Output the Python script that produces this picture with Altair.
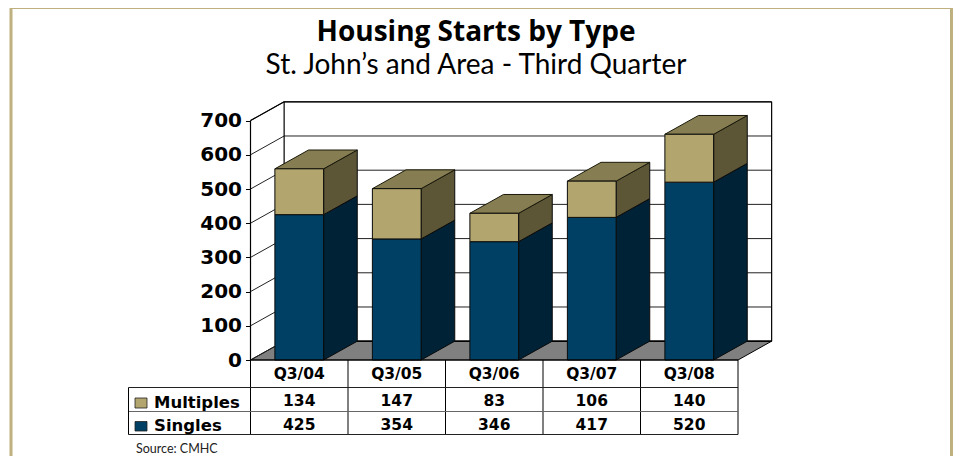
import altair as alt
import pandas as pd

categories = ["Q3/04", "Q3/05", "Q3/06", "Q3/07", "Q3/08"]
singles = [425, 354, 346, 417, 520]
multiples = [134, 147, 83, 106, 140]
ticks = [0, 100, 200, 300, 400, 500, 600, 700]
series_names = ["Multiples", "Singles"]
FONT = "Lato"
HEAVY = "DejaVu Sans"

# chart scale: category slots on x, housing starts on y, with the 3D depth in the same units
W, H = 945, 448
SLOT_PX, UNIT_PX = 97.5, 0.342
X0_PX, Y0_PX = 242.5, 352
DX, DY = 0.345, 55
BAR = 0.5
x_scale = alt.Scale(domain=[-X0_PX / SLOT_PX, (W - X0_PX) / SLOT_PX], range=[0, W], nice=False, zero=False)
y_scale = alt.Scale(domain=[(Y0_PX - H) / UNIT_PX, Y0_PX / UNIT_PX], range=[H, 0], nice=False, zero=False)
NAVY, NAVY_SIDE = "#004064", "#002236"
TAN, TAN_SIDE, TAN_TOP = "#B2A66E", "#5C5637", "#877D52"
FRAME = "#BFB07F"
n = len(categories)

X = lambda f="x": alt.X(f, type="quantitative", scale=x_scale, axis=None, title=None)
Y = lambda f="y": alt.Y(f, type="quantitative", scale=y_scale, axis=None, title=None)
X2 = alt.X2("x2")
Y2 = alt.Y2("y2")

# grid lines on left wall and back wall
seg = []
for t in ticks:
    seg.append(dict(x=0, x2=DX, y=t, y2=t + DY))
    seg.append(dict(x=DX, x2=n + DX, y=t + DY, y2=t + DY))
grid = alt.Chart(pd.DataFrame(seg)).mark_rule(color="#222222", strokeWidth=1).encode(X(), X2, Y(), Y2)

edges = pd.DataFrame([
    dict(x=DX, x2=DX, y=DY, y2=700 + DY),
    dict(x=n + DX, x2=n + DX, y=DY, y2=700 + DY),
    dict(x=0, x2=0, y=0, y2=700),
    dict(x=DX, x2=n + DX, y=700 + DY, y2=700 + DY),
    dict(x=0, x2=DX, y=700, y2=700 + DY),
])
wall_edges = alt.Chart(edges).mark_rule(color="black", strokeWidth=1.2).encode(X(), X2, Y(), Y2)

floor_df = pd.DataFrame([dict(x=0, x2=n, y=0), dict(x=DX, x2=n + DX, y=DY)])
floor = alt.Chart(floor_df).mark_area(orient="horizontal", color="#808080", stroke="black", strokeWidth=1).encode(X(), X2, Y())
back_line = alt.Chart(pd.DataFrame([dict(x=DX, x2=n + DX, y=DY, y2=DY)])).mark_rule(color="black", strokeWidth=1.6).encode(X(), X2, Y(), Y2)

# bars
fronts, sides, tops = [], [], []
for i, (s, m) in enumerate(zip(singles, multiples)):
    x0, x1 = i + (1 - BAR) / 2, i + (1 + BAR) / 2
    for name, lo, hi, c, cs in [("S", 0, s, NAVY, NAVY_SIDE), ("M", s, s + m, TAN, TAN_SIDE)]:
        fronts.append(dict(x=x0, x2=x1, y=lo, y2=hi, c=c))
        sides.append(dict(g=f"{i}{name}", x=x1, y=lo, y2=hi, c=cs))
        sides.append(dict(g=f"{i}{name}", x=x1 + DX, y=lo + DY, y2=hi + DY, c=cs))
    tops.append(dict(g=i, x=x0, x2=x1, y=s + m, c=TAN_TOP))
    tops.append(dict(g=i, x=x0 + DX, x2=x1 + DX, y=s + m + DY, c=TAN_TOP))

color = alt.Color("c:N", scale=None)
side_layer = alt.Chart(pd.DataFrame(sides)).mark_area(stroke="#0a0a0a", strokeWidth=1).encode(X(), Y(), Y2, color=color, detail="g:N")
top_layer = alt.Chart(pd.DataFrame(tops)).mark_area(orient="horizontal", stroke="#1a1a0a", strokeWidth=1).encode(X(), X2, Y(), color=color, detail="g:N")
front_layer = alt.Chart(pd.DataFrame(fronts)).mark_rect(stroke="#0a0a0a", strokeWidth=1).encode(X(), X2, Y(), Y2, color=color)

# y axis carried by an invisible layer
axis_layer = alt.Chart(pd.DataFrame({"y": ticks, "x": [0] * len(ticks)})).mark_point(opacity=0).encode(
    X(),
    alt.Y("y:Q", scale=y_scale, title=None, axis=alt.Axis(
        values=ticks, offset=-X0_PX, domain=False, grid=False, tickColor="black", tickSize=5, tickWidth=1,
        labelFont=HEAVY, labelFontSize=20, labelFontWeight="bold", labelColor="black", labelPadding=4)),
)

# data table
ROW_PX = [387.5 - 8, 411.5 - 8, 434.5 - 8]
LEFT_PX = 128.5 - 8
TOP_PX = Y0_PX
v_rules = alt.Chart(pd.DataFrame({"x": list(range(n + 1))})).mark_rule(color="black", strokeWidth=1).encode(
    X(), y=alt.value(TOP_PX), y2=alt.value(ROW_PX[2]))
h_rules = alt.Chart(pd.DataFrame({"y": ROW_PX, "c": ["#222222", "#666666", "#222222"]})).mark_rule(strokeWidth=1).encode(
    x=alt.value(LEFT_PX), x2=alt.value(X0_PX + n * SLOT_PX), y=alt.Y("y:Q", scale=None), color=color)
base_rule = alt.Chart(pd.DataFrame({"y": [TOP_PX]})).mark_rule(color="black", strokeWidth=1.2).encode(
    x=alt.value(X0_PX), x2=alt.value(X0_PX + n * SLOT_PX), y=alt.Y("y:Q", scale=None))
left_rule = alt.Chart(pd.DataFrame({"x": [LEFT_PX]})).mark_rule(color="black", strokeWidth=1).encode(
    x=alt.X("x:Q", scale=None), y=alt.value(ROW_PX[0]), y2=alt.value(ROW_PX[2]))

rows = []
for i, c in enumerate(categories):
    rows.append(dict(x=i + 0.5, t=c, py=373.5 - 8))
    rows.append(dict(x=i + 0.5, t=str(multiples[i]), py=401 - 8))
    rows.append(dict(x=i + 0.5, t=str(singles[i]), py=424.5 - 8))
cells = alt.Chart(pd.DataFrame(rows)).mark_text(font=HEAVY, fontSize=15.5, fontWeight="bold", color="black", baseline="middle").encode(
    X(), y=alt.Y("py:Q", scale=None), text="t:N")
labels = alt.Chart(pd.DataFrame({"t": series_names, "py": [402.5 - 8, 426 - 8]})).mark_text(
    font=HEAVY, fontSize=16.5, fontWeight="bold", color="black", align="left", baseline="middle").encode(
    x=alt.value(154 - 8), y=alt.Y("py:Q", scale=None), text="t:N")
swatches = alt.Chart(pd.DataFrame({"py": [398 - 8, 421.5 - 8], "py2": [408 - 8, 431 - 8], "c": [TAN, NAVY]})).mark_rect(
    stroke="#222222", strokeWidth=0.8).encode(
    x=alt.value(135 - 8), x2=alt.value(147 - 8), y=alt.Y("py:Q", scale=None), y2="py2:Q", color=color)
source = alt.Chart(pd.DataFrame({"t": ["Source: CMHC"], "py": [448.5 - 8]})).mark_text(
    font=FONT, fontSize=12.5, color="#222222", align="left", baseline="middle").encode(
    x=alt.value(136 - 8), y=alt.Y("py:Q", scale=None), text="t:N")

# page frame
frame = alt.Chart(pd.DataFrame({"x": [3, W - 1.5]})).mark_rule(color=FRAME, strokeWidth=3).encode(
    x=alt.X("x:Q", scale=None), y=alt.value(0), y2=alt.value(H))
frame_top = alt.Chart(pd.DataFrame({"y": [0]})).mark_rule(color=FRAME, strokeWidth=2).encode(
    x=alt.value(2), x2=alt.value(W), y=alt.Y("y:Q", scale=None))

chart = alt.layer(
    frame, frame_top, floor, grid, wall_edges, back_line, axis_layer,
    side_layer, top_layer, front_layer,
    v_rules, h_rules, base_rule, left_rule, swatches, cells, labels, source,
).resolve_scale(x="independent", y="independent").properties(
    width=W, height=H, padding=0, autosize=alt.AutoSizeParams(type="none"),
    title=alt.TitleParams(
        text="Housing Starts by Type", subtitle="St. John\u2019s and Area - Third Quarter",
        anchor="middle", offset=-73, dx=-4.5, font="Open Sans", fontSize=28, fontWeight="bold", color="black",
        subtitleFont=FONT, subtitleFontSize=28, subtitleFontWeight=400, subtitleColor="black", subtitlePadding=5),
).configure_view(stroke=None)

chart.save("out.html", embed_options={"renderer": "svg", "actions": False})
